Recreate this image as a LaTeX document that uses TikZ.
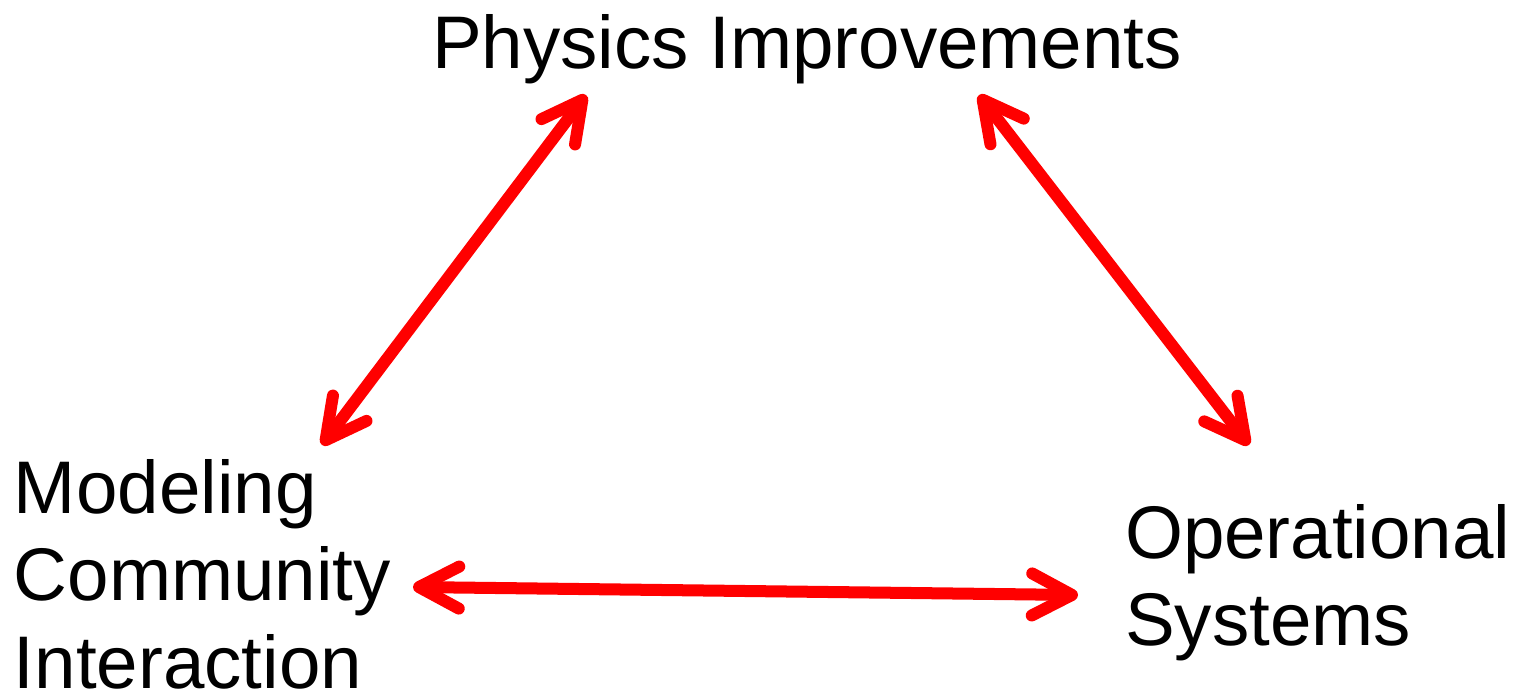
\documentclass[tikz,border=0pt]{standalone}
\usepackage{fontspec}
\setmainfont{Liberation Sans}
\usetikzlibrary{arrows.meta}
\definecolor{arrowred}{RGB}{255,0,0}
\tikzset{
  lbl/.style={inner sep=0pt, outer sep=0pt, font=\fontsize{21.2pt}{25pt}\selectfont, align=left},
  barb/.tip={Straight Barb[length=0.40cm, width=0.42cm, line width=0.12cm, round]},
  link/.style={draw=arrowred, line width=0.12cm, line cap=round, {barb}-{barb}}
}
\begin{document}
\begin{tikzpicture}[x=0.01cm, y=-0.01cm]
\useasboundingbox (0,0) rectangle (1518,697);
\node[lbl, anchor=base west] (phys) at (432,68) {Physics Improvements};
\node[lbl, anchor=north west] (model) at (14,459) {Modeling\\Community\\Interaction};
\node[lbl, anchor=north west] (oper) at (1125,504) {Operational\\Systems};
\coordinate (p1) at (586,95);
\coordinate (m1) at (322,445);
\coordinate (p2) at (979,95);
\coordinate (o1) at (1249,445);
\coordinate (m2) at (413,587);
\coordinate (o2) at (1078,595);
\draw[link] (p1) -- (m1);
\draw[link] (p2) -- (o1);
\draw[link] (m2) -- (o2);
\end{tikzpicture}
\end{document}
